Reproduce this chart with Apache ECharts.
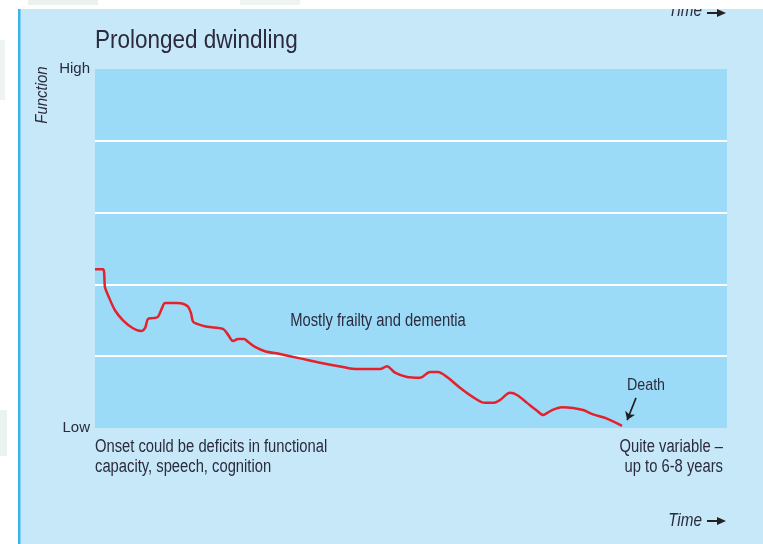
<!DOCTYPE html>
<html>
<head>
<meta charset="utf-8">
<script src="https://cdn.jsdelivr.net/npm/echarts@6/dist/echarts.min.js"></script>
<style>
  html, body { margin: 0; padding: 0; background: #fff; }
  #main { width: 763px; height: 544px; }
</style>
</head>
<body>
<div id="main"></div>
<script>
// time runs 0..100 along the x axis, function 0 (Low) .. 5 (High)
var timeVals = [0, 1.27, 1.58, 2.06, 3.16, 4.43, 6.01, 7.28, 7.91, 8.39, 9.18, 9.97, 10.6, 11.08,
  12.97, 13.92, 14.72, 15.19, 15.51, 16.14, 17.72, 20.25, 21.04, 21.84, 22.63, 23.58, 24.21,
  25.32, 26.9, 29.27, 32.44, 35.6, 39.24, 41.46, 45.09, 46.2, 47.47, 49.37, 51.42, 53.01,
  54.27, 55.7, 57.75, 59.81, 61.71, 62.97, 64.08, 65.66, 66.77, 68.35, 69.94, 70.89, 72.31,
  73.89, 75.63, 77.22, 78.8, 81.01, 83.39];
var functionVals = [2.21, 2.21, 1.96, 1.85, 1.64, 1.50, 1.39, 1.35, 1.39, 1.52, 1.53, 1.55, 1.67, 1.74,
  1.74, 1.73, 1.69, 1.60, 1.48, 1.45, 1.41, 1.38, 1.30, 1.21, 1.24, 1.24, 1.20,
  1.13, 1.07, 1.03, 0.97, 0.91, 0.85, 0.82, 0.82, 0.86, 0.77, 0.71, 0.70, 0.78,
  0.78, 0.71, 0.56, 0.43, 0.35, 0.35, 0.39, 0.49, 0.46, 0.35, 0.24, 0.18, 0.25,
  0.29, 0.28, 0.25, 0.19, 0.13, 0.03];
var yTickLabels = { 0: 'Low', 5: 'High' };
var deathArrow = [[85.6, 0.42], [84.2, 0.11]];

var textColor = '#2b2b3d';
var sans = '"Liberation Sans", Arial, sans-serif';

var myChart = echarts.init(document.getElementById('main'));

var lineData = [];
for (var i = 0; i < timeVals.length; i++) {
  lineData.push([timeVals[i], functionVals[i]]);
}

// condensed looking text: Liberation Sans squeezed horizontally
function note(x, y, text, size, squeeze, align, extra) {
  var el = {
    type: 'text', z: 50, x: x, y: y, scaleX: squeeze,
    style: { text: text, fill: textColor, font: size + 'px ' + sans, align: align, verticalAlign: 'middle' }
  };
  for (var k in extra) { el[k] = extra[k]; }
  return el;
}

var option = {
  backgroundColor: '#c6e8f9',
  animation: false,
  grid: {
    left: 95, right: 36, top: 69, bottom: 116,
    show: true,
    backgroundColor: '#9cdbf7',
    borderWidth: 0
  },
  xAxis: {
    type: 'value', min: 0, max: 100, show: false
  },
  yAxis: {
    type: 'value', min: 0, max: 5, interval: 1,
    axisLine: { show: false },
    axisTick: { show: false },
    axisLabel: {
      margin: 5,
      color: textColor,
      fontFamily: sans,
      fontSize: 15,
      formatter: function (v) { return yTickLabels[v] || ''; }
    },
    splitLine: {
      show: true,
      showMinLine: false,
      showMaxLine: false,
      lineStyle: { color: '#ffffff', width: 2 }
    }
  },
  series: [{
    type: 'line',
    data: lineData,
    smooth: 0.3,
    symbol: 'none',
    lineStyle: { color: '#e5212b', width: 2.5 },
    markLine: {
      silent: true,
      symbol: ['none', 'arrow'],
      symbolSize: 8,
      label: { show: false },
      lineStyle: { color: '#1e1e1e', width: 1.6, type: 'solid' },
      data: [[{ coord: deathArrow[0] }, { coord: deathArrow[1] }]]
    }
  }],
  graphic: [
    // white margins of the scanned page
    { type: 'rect', z: 100, shape: { x: 0, y: 0, width: 763, height: 9 }, style: { fill: '#ffffff' } },
    { type: 'rect', z: 100, shape: { x: 0, y: 0, width: 18, height: 544 }, style: { fill: '#ffffff' } },
    { type: 'rect', z: 101, shape: { x: 28, y: 0, width: 70, height: 5 }, style: { fill: '#eaf1ee' } },
    { type: 'rect', z: 101, shape: { x: 240, y: 0, width: 60, height: 5 }, style: { fill: '#eef4f1' } },
    { type: 'rect', z: 101, shape: { x: 0, y: 410, width: 7, height: 46 }, style: { fill: '#eaf3ef' } },
    { type: 'rect', z: 101, shape: { x: 0, y: 40, width: 5, height: 60 }, style: { fill: '#eef4f1' } },
    { type: 'rect', z: 101, shape: { x: 18, y: 9, width: 2.5, height: 535 }, style: { fill: '#3cb4ec' } },
    // cropped "Time" from the panel above
    note(702, 11, 'Time', 18, 0.85, 'right', { style: { text: 'Time', fill: textColor, font: 'italic 18px ' + sans, align: 'right', verticalAlign: 'middle' } }),
    { type: 'rect', z: 50, shape: { x: 707, y: 12, width: 12, height: 2 }, style: { fill: '#222' } },
    { type: 'polygon', z: 50, shape: { points: [[717, 9], [726, 13], [717, 17]] }, style: { fill: '#222' } },
    // titles and notes
    note(95, 41, 'Prolonged dwindling', 25, 0.9, 'left'),
    note(42, 95, 'Function', 18, 0.88, 'center', {
      rotation: Math.PI / 2,
      style: { text: 'Function', fill: textColor, font: 'italic 17px ' + sans, align: 'center', verticalAlign: 'middle' }
    }),
    note(378, 321, 'Mostly frailty and dementia', 18, 0.82, 'center'),
    note(646, 385, 'Death', 17, 0.84, 'center'),
    note(95, 447, 'Onset could be deficits in functional', 18, 0.82, 'left'),
    note(95, 467, 'capacity, speech, cognition', 18, 0.82, 'left'),
    note(723, 447, 'Quite variable \u2013', 18, 0.82, 'right'),
    note(723, 467, 'up to 6-8 years', 18, 0.82, 'right'),
    note(702, 521, 'Time', 18, 0.85, 'right', { style: { text: 'Time', fill: textColor, font: 'italic 18px ' + sans, align: 'right', verticalAlign: 'middle' } }),
    { type: 'rect', z: 50, shape: { x: 707, y: 520, width: 12, height: 2 }, style: { fill: '#222' } },
    { type: 'polygon', z: 50, shape: { points: [[717, 517], [726, 521], [717, 525]] }, style: { fill: '#222' } }
  ]
};

myChart.setOption(option);
</script>
</body>
</html>
